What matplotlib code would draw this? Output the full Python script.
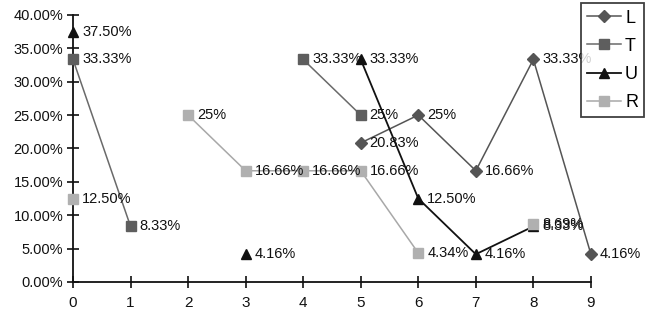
import numpy as np
import matplotlib
matplotlib.use("Agg")
import matplotlib.pyplot as plt
from matplotlib.ticker import FuncFormatter, MultipleLocator

nan = np.nan
x = list(range(10))
series_names = ["L", "T", "U", "R"]
L = [nan, nan, nan, nan, nan, 20.83, 25, 16.66, 33.33, 4.16]
T = [33.33, 8.33, nan, nan, 33.33, 25, nan, nan, nan, nan]
U = [37.50, nan, nan, 4.16, nan, 33.33, 12.50, 4.16, 8.33, nan]
R = [12.50, nan, 25, 16.66, 16.66, 16.66, 4.34, nan, 8.69, nan]

styles = {
    "L": dict(color="#555555", marker="D", ms=6, mfc="#555555", mec="#555555", lw=1.1),
    "T": dict(color="#6a6a6a", marker="s", ms=7.5, mfc="#5e5e5e", mec="#5e5e5e", lw=1.1),
    "U": dict(color="#111111", marker="^", ms=7.5, mfc="#111111", mec="#111111", lw=1.3),
    "R": dict(color="#a8a8a8", marker="s", ms=7.5, mfc="#b0b0b0", mec="#b0b0b0", lw=1.1),
}

plt.rcParams["font.family"] = ["Liberation Sans", "DejaVu Sans"]

fig = plt.figure(figsize=(6.49, 3.21), dpi=100)
ax = fig.add_axes([0.1125, 0.1215, 0.798, 0.832])

data = {"L": L, "T": T, "U": U, "R": R}
handles = []
for name in series_names:
    vals = np.array(data[name], dtype=float)
    h, = ax.plot(x, vals, label=name, clip_on=False, zorder=3, **styles[name])
    handles.append(h)

def fmt(v):
    return f"{v:.0f}%" if float(v).is_integer() else f"{v:.2f}%"

# value labels to the right of each point
for name in series_names:
    for xi, v in zip(x, data[name]):
        if not np.isnan(v):
            ax.annotate(fmt(v), (xi, v), xytext=(9, 0), textcoords="offset pixels",
                        va="center", ha="left", fontsize=10.5, color="#111111", zorder=4)

ax.set_xlim(0, 9)
ax.set_ylim(0, 40)
ax.xaxis.set_major_locator(MultipleLocator(1))
ax.yaxis.set_major_locator(MultipleLocator(5))
ax.yaxis.set_major_formatter(FuncFormatter(lambda v, p: f"{v:.2f}%"))
for s in ["top", "right"]:
    ax.spines[s].set_visible(False)
for s in ["left", "bottom"]:
    ax.spines[s].set_linewidth(1.3)
    ax.spines[s].set_color("#111111")
ax.tick_params(direction="inout", length=8, width=1.2, colors="#111111",
               labelsize=10.5, pad=3)
ax.tick_params(axis="x", pad=6, labelsize=11)

leg = fig.legend(handles=handles, loc="upper left", bbox_to_anchor=(0.895, 0.99),
                 fontsize=13, frameon=True, fancybox=False, handlelength=1.9,
                 handletextpad=0.2, borderpad=0.35, labelspacing=0.62,
                 borderaxespad=0)
leg.get_frame().set_edgecolor("#111111")
leg.get_frame().set_linewidth(1.3)

fig.savefig("out.png", dpi=100)
